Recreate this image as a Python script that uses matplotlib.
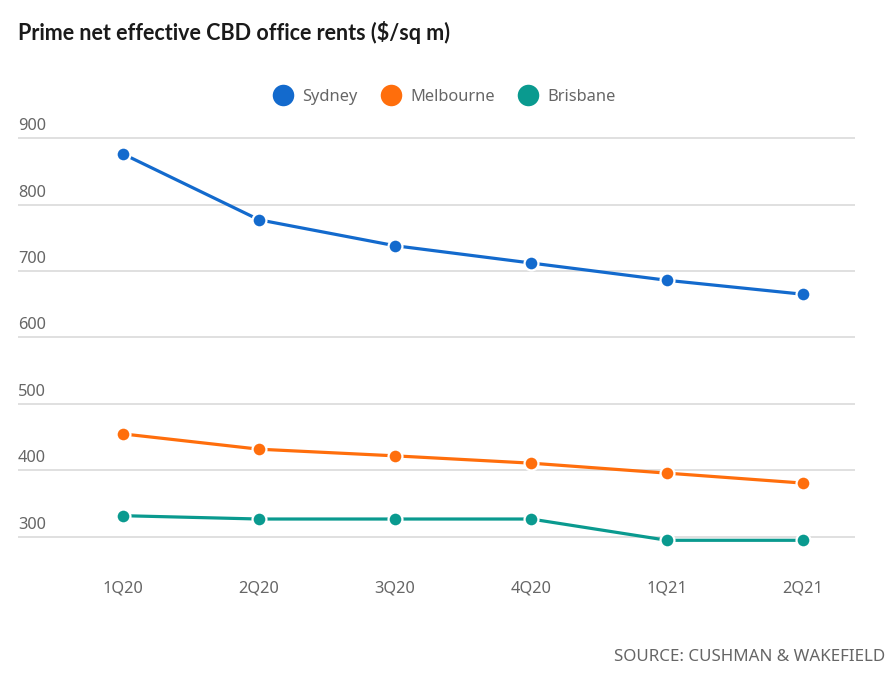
import matplotlib.pyplot as plt
from matplotlib import transforms

quarters = ['1Q20', '2Q20', '3Q20', '4Q20', '1Q21', '2Q21']
sydney = [876, 777, 738, 712, 686, 665]
melbourne = [455, 432, 422, 411, 396, 381]
brisbane = [332, 327, 327, 327, 295, 295]
y_ticks = [300, 400, 500, 600, 700, 800, 900]

series = [
    ('Sydney', sydney, '#136acd'),
    ('Melbourne', melbourne, '#ff6e0c'),
    ('Brisbane', brisbane, '#0a9a8f'),
]

plt.rcParams['font.family'] = ['Noto Sans', 'DejaVu Sans']
grey = '#666666'

fig = plt.figure(figsize=(8.96, 6.8), dpi=100)
ax = fig.add_axes([0.0201, 0.181, 0.934, 0.6356])

x = list(range(len(quarters)))
for name, vals, col in series:
    ax.plot(x, vals, color=col, lw=2.3, marker='o', markersize=10,
            markeredgecolor='white', markeredgewidth=1.6, label=name,
            solid_capstyle='round', zorder=3)

ax.set_xlim(-0.772, 5.38)
ax.set_ylim(270, 920)

for v in y_ticks:
    ax.axhline(v, color='#dddddd', lw=1.3, zorder=1)
    tr = transforms.offset_copy(ax.get_yaxis_transform(), fig=fig, y=4, units='dots')
    ax.text(0, v, str(v), transform=tr, ha='left', va='bottom',
            fontsize=11.8, color=grey)

ax.set_yticks([])
ax.set_xticks(x)
ax.set_xticklabels(quarters, fontsize=11.8, color=grey)
ax.tick_params(axis='x', length=0, pad=17)
for s in ax.spines.values():
    s.set_visible(False)

handles, labels = ax.get_legend_handles_labels()
leg = fig.legend(handles, labels, loc='center', ncol=3,
                 bbox_to_anchor=(0.497, 1 - 97 / 680), frameon=False,
                 fontsize=11.8, handlelength=1.0, handletextpad=0.7,
                 columnspacing=1.5, markerscale=1.55)
for t in leg.get_texts():
    t.set_color(grey)
for h in leg.legend_handles:
    h.set_linestyle('none')
    h.set_markeredgewidth(0)

fig.text(18 / 896, 1 - 32 / 680, 'Prime net effective CBD office rents ($/sq m)',
         ha='left', va='center', fontsize=15.5, fontweight='bold',
         family=['Lato', 'DejaVu Sans'], color='#1a1a1a')
fig.text(885 / 896, 1 - 657 / 680, 'SOURCE: CUSHMAN & WAKEFIELD',
         ha='right', va='center', fontsize=12.2, color=grey)

fig.savefig('out.png', dpi=100)
